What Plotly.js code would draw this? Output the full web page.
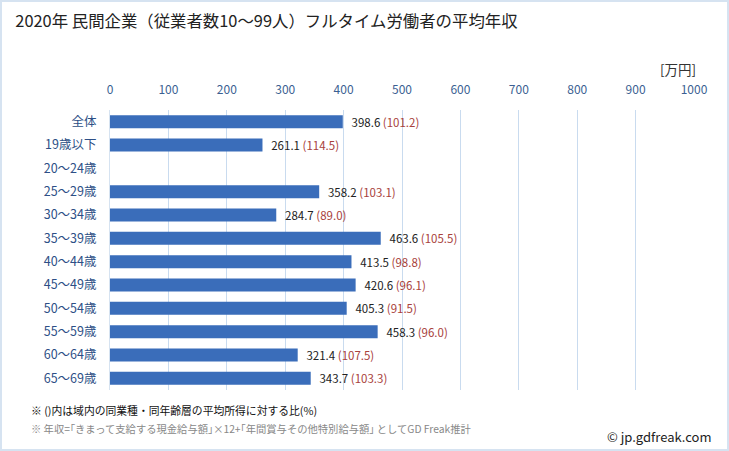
<!DOCTYPE html>
<html><head><meta charset="utf-8">
<script src="https://cdn.plot.ly/plotly-3.0.1.min.js"></script>
<style>body{margin:0;padding:0;background:#fff}#wrap{position:relative;width:729px;height:451px}#chart{width:729px;height:451px}#frame{position:absolute;left:0;top:0;width:729px;height:451px;box-sizing:border-box;border:2px solid #d6e3f1;pointer-events:none}</style>
</head><body><div id="wrap"><div id="chart"></div><div id="frame"></div></div>
<script>
const categories = ['全体','19歳以下','20〜24歳','25〜29歳','30〜34歳','35〜39歳','40〜44歳','45〜49歳','50〜54歳','55〜59歳','60〜64歳','65〜69歳'];
const incomes = [398.6, 261.1, null, 358.2, 284.7, 463.6, 413.5, 420.6, 405.3, 458.3, 321.4, 343.7];
const ratios = [101.2, 114.5, null, 103.1, 89.0, 105.5, 98.8, 96.1, 91.5, 96.0, 107.5, 103.3];
const tickVals = [0,100,200,300,400,500,600,700,800,900,1000];

const font = '"Noto Sans CJK JP", "Noto Sans", sans-serif';
const labels = incomes.map((v,i) => v == null ? '' :
  '\u2002' + v.toFixed(1) + ' <span style="color:#a8413b">(' + ratios[i].toFixed(1) + ')</span>');

const trace = {
  type: 'bar', orientation: 'h',
  y: categories, x: incomes,
  marker: {color: '#3a6dba', line: {width: 0}},
  width: 0.56,
  text: labels, textposition: 'outside', cliponaxis: false, constraintext: 'none',
  textfont: {family: font, size: 11.5, color: '#222'},
  hoverinfo: 'skip'
};

const layout = {
  width: 729, height: 451,
  margin: {l: 110, r: 35, t: 110, b: 61},
  paper_bgcolor: '#fff', plot_bgcolor: '#fff',
  showlegend: false,
  title: {text: '2020年 民間企業（従業者数10〜99人）フルタイム労働者の平均年収', x: 0.021, xanchor: 'left', y: 0.952, yanchor: 'middle',
          font: {family: font, size: 16.4, color: '#222'}},
  xaxis: {side: 'top', range: [0, 1000], tickvals: tickVals, ticktext: tickVals.map(String),
          showgrid: true, gridcolor: '#c9dbef', gridwidth: 1, zeroline: false, showline: false,
          ticks: 'outside', ticklen: 10, tickcolor: 'rgba(0,0,0,0)',
          tickfont: {family: font, size: 12, color: '#3b5f92'}, fixedrange: true},
  yaxis: {autorange: 'reversed', type: 'category', showgrid: false, zeroline: false,
          showline: true, linecolor: '#d6e3f1', linewidth: 1,
          ticks: 'outside', ticklen: 10, tickcolor: 'rgba(0,0,0,0)',
          tickfont: {family: font, size: 12.5, color: '#2d4f86'}, fixedrange: true},
  bargap: 0.44,
  annotations: [
    {text: '[万円]', xref: 'paper', yref: 'paper', x: 1.006, xanchor: 'right', y: 1.145, yanchor: 'middle',
     showarrow: false, font: {family: font, size: 13.5, color: '#333'}},
    {text: '※ ()内は域内の同業種・同年齢層の平均所得に対する比(%)', xref: 'paper', yref: 'paper',
     x: -0.138, xanchor: 'left', y: -0.07, yanchor: 'middle', showarrow: false,
     font: {family: font, size: 10.8, color: '#111'}},
    {text: '※ 年収=｢きまって支給する現金給与額｣×12+｢年間賞与その他特別給与額｣ としてGD Freak推計', xref: 'paper', yref: 'paper',
     x: -0.138, xanchor: 'left', y: -0.137, yanchor: 'middle', showarrow: false,
     font: {family: font, size: 10.3, color: '#888'}},
    {text: '© jp.gdfreak.com', xref: 'paper', yref: 'paper', x: 1.035, xanchor: 'right', y: -0.165, yanchor: 'middle',
     showarrow: false, font: {family: font, size: 13, color: '#222'}}
  ]
};
Plotly.newPlot('chart', [trace], layout, {displayModeBar: false, staticPlot: true});
</script></body></html>
